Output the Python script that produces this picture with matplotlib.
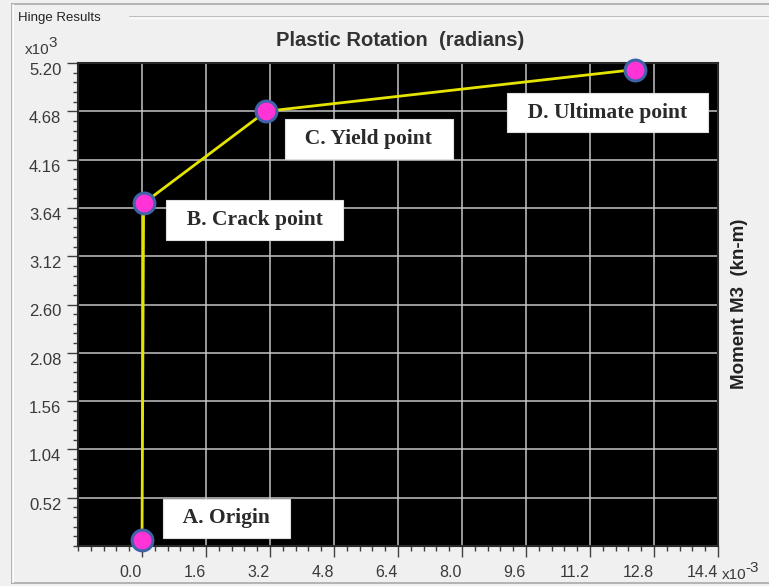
import numpy as np
import matplotlib
matplotlib.use('Agg')
import matplotlib.pyplot as plt
from matplotlib.lines import Line2D

# Hinge result points (rotation in 1e-3 rad, moment in 1e3 kN-m)
rotation = [0.0, 0.04, 3.1, 12.33]
moment = [0.06, 3.69, 4.68, 5.13]
point_labels = ['A. Origin', 'B. Crack point', 'C. Yield point', 'D. Ultimate point']

# label box offsets from each point (points)
label_offsets = [(61, 16), (80, -12), (74, -20), (-20, -31)]

x_major = [0.0, 1.6, 3.2, 4.8, 6.4, 8.0, 9.6, 11.2, 12.8, 14.4]
y_major = [0.52, 1.04, 1.56, 2.08, 2.60, 3.12, 3.64, 4.16, 4.68, 5.20]

bg = '#f0f0f0'
fig = plt.figure(figsize=(7.69, 5.86), dpi=100, facecolor=bg)
ax = fig.add_axes([78 / 769, 40 / 586, 640 / 769, 483 / 586])
ax.set_facecolor('black')

ax.set_xlim(-1.6, 14.4)
ax.set_ylim(0.0, 5.2)

ax.set_xticks(x_major)
ax.set_xticks(np.arange(-1.6, 14.41, 0.32), minor=True)
ax.set_yticks(y_major)
ax.set_yticks(np.arange(0.0, 5.201, 0.104), minor=True)
ax.set_xticklabels(['%.1f' % v for v in x_major])
ax.set_yticklabels(['%.2f' % v for v in y_major])

ax.tick_params(which='major', direction='out', length=8, width=1, color='#404040')
ax.tick_params(which='minor', direction='out', length=3.5, width=1, color='#404040')
ax.tick_params(axis='x', which='major', pad=6, labelsize=11.5, labelcolor='#3a3a3a')
ax.tick_params(axis='y', which='major', pad=4, labelsize=12, labelcolor='#3a3a3a')
for lbl in ax.get_xticklabels():
    lbl.set_ha('right')
    lbl.set_family('Liberation Sans')
for lbl in ax.get_yticklabels():
    lbl.set_va('top')
    lbl.set_family('Liberation Sans')

ax.grid(True, which='major', color='#c4c4c4', linewidth=1.1)
ax.set_axisbelow(True)
for sp in ax.spines.values():
    sp.set_color('#2a2a2a')
    sp.set_linewidth(1.5)

# curve + points
ax.plot(rotation, moment, color='#e4e400', linewidth=2.0, zorder=3)
ax.plot(rotation, moment, linestyle='none', marker='o', markersize=15,
        markerfacecolor='#ff33d6', markeredgecolor='#3f63a8', markeredgewidth=2.2,
        zorder=4, clip_on=False)

for x, y, txt, off in zip(rotation, moment, point_labels, label_offsets):
    ax.annotate('  ' + txt + '  ', xy=(x, y), xytext=off, textcoords='offset points',
                ha='center', va='center', fontsize=15.5, fontweight='bold',
                family='Liberation Serif', color='#2a2a2a', zorder=5,
                bbox=dict(boxstyle='square,pad=0.45', facecolor='white', edgecolor='#e0e0e0', linewidth=0.8))

# titles and unit multipliers
fig.text(400 / 769, 1 - 40 / 586, 'Plastic Rotation  (radians)', ha='center', va='center',
         fontsize=14.5, fontweight='bold', family='Liberation Sans', color='#333333')
fig.text(740 / 769, 1 - 304 / 586, 'Moment M3  (kn-m)', ha='center', va='center', rotation=90,
         fontsize=13.5, fontweight='bold', family='Liberation Sans', color='#222222')
fig.text(25 / 769, 1 - 50 / 586, 'x10', ha='left', va='center', fontsize=11,
         family='Liberation Sans', color='#3a3a3a')
fig.text(48 / 769, 1 - 43 / 586, '3', ha='left', va='center', fontsize=11,
         family='Liberation Sans', color='#3a3a3a')
fig.text(722 / 769, 1 - 575 / 586, 'x10', ha='left', va='center', fontsize=11,
         family='Liberation Sans', color='#3a3a3a')
fig.text(745 / 769, 1 - 568 / 586, '-3', ha='left', va='center', fontsize=11,
         family='Liberation Sans', color='#3a3a3a')

# group box frame
def px_line(x0, y0, x1, y1, color):
    fig.add_artist(Line2D([x0 / 769, x1 / 769], [1 - y0 / 586, 1 - y1 / 586],
                          color=color, linewidth=1.2, transform=fig.transFigure))

px_line(12, 4, 769, 4, '#a8a8a8')
px_line(12, 4, 12, 583, '#a8a8a8')
px_line(12, 583, 769, 583, '#a8a8a8')
px_line(13, 5, 13, 582, 'white')
px_line(130, 17, 769, 17, '#b4b4b4')
px_line(130, 18, 769, 18, 'white')
fig.text(18 / 769, 1 - 18 / 586, 'Hinge Results', ha='left', va='center', fontsize=9.5,
         family='Liberation Sans', color='#222222')

plt.savefig('out.png', dpi=100, facecolor=bg)
